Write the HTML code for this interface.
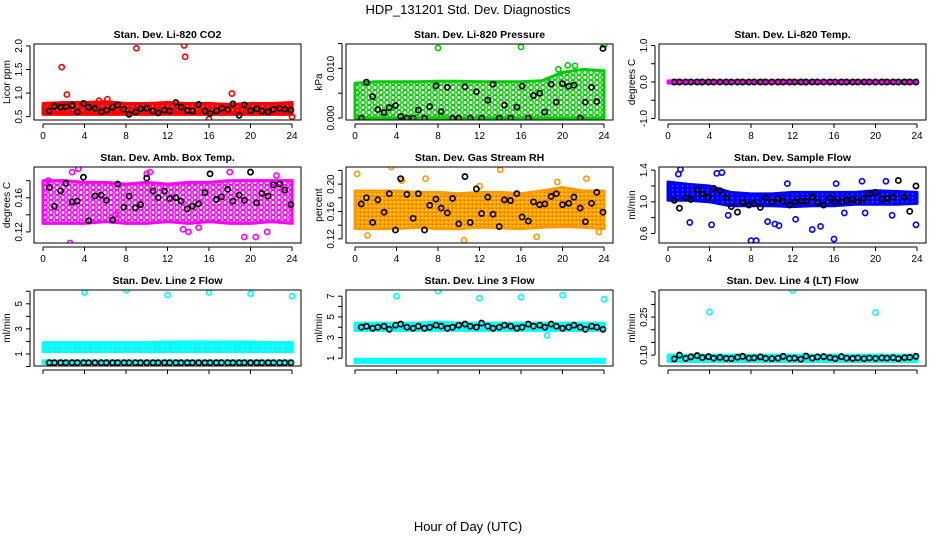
<!DOCTYPE html>
<html><head><meta charset="utf-8"><style>
body{margin:0;background:#fff}
svg{display:block;font-family:"Liberation Sans",sans-serif}
</style></head><body>
<svg id="c" width="936" height="540">
<defs>
<pattern id="pr" width="5" height="4" patternUnits="userSpaceOnUse"><rect width="5" height="4" fill="#f00"/><circle cx="2.5" cy="2" r="0.8" fill="#f88"/></pattern>
<pattern id="pg" width="6" height="5" patternUnits="userSpaceOnUse"><circle cx="3" cy="2.5" r="2.2" fill="none" stroke="#0c0" stroke-width="1.4"/></pattern>
<pattern id="pm" width="6" height="5" patternUnits="userSpaceOnUse"><circle cx="3" cy="2.5" r="2.2" fill="none" stroke="#f0f" stroke-width="1.5"/></pattern>
<pattern id="po" width="4" height="4" patternUnits="userSpaceOnUse"><rect width="4" height="4" fill="#f90"/><circle cx="2" cy="2" r="0.9" fill="#ff0"/><circle cx="0" cy="0" r="0.7" fill="#f00"/></pattern>
<pattern id="pb" width="5" height="4" patternUnits="userSpaceOnUse"><rect width="5" height="4" fill="#00f"/><circle cx="2.5" cy="2" r="0.8" fill="#66f"/></pattern>
<pattern id="pc" width="5" height="4" patternUnits="userSpaceOnUse"><rect width="5" height="4" fill="#0ff"/><circle cx="2.5" cy="2" r="0.8" fill="#bff"/></pattern>
</defs>
<text x="468" y="14" text-anchor="middle" font-size="13">HDP_131201  Std. Dev. Diagnostics</text>
<text x="468" y="531" text-anchor="middle" font-size="13">Hour of Day (UTC)</text>
</svg>
<script>
const bHours=[0.6,1.1,1.7,2.2,2.8,3.3,3.9,4.4,5.0,5.6,6.1,6.7,7.2,7.8,8.3,8.9,9.4,10.0,10.6,11.1,11.7,12.2,12.8,13.3,13.9,14.4,15.0,15.6,16.1,16.7,17.2,17.8,18.3,18.9,19.4,20.0,20.6,21.1,21.7,22.2,22.8,23.3,23.9];
const bandHours=[0,2,4,6,8,10,12,14,16,18,20,22,24];
// black series
const co2Black=[0.62,0.72,0.7,0.71,0.74,0.6,0.78,0.7,0.68,0.6,0.64,0.7,0.75,0.66,0.55,0.6,0.67,0.68,0.62,0.58,0.64,0.62,0.8,0.7,0.63,0.62,0.76,0.62,0.57,0.62,0.68,0.65,0.77,0.53,0.75,0.63,0.67,0.62,0.6,0.66,0.68,0.66,0.64];
const presBlack=[0.0,0.0072,0.0043,0.0017,0.0011,0.0021,0.0025,0.0003,0.0,0.0,0.0016,0.0,0.0023,0.0065,0.0013,0.0062,0.0,0.0,0.0063,0.0,0.0053,0.0,0.0036,0.0068,0.0,0.0026,0.0,0.0022,0.0064,0.0,0.0045,0.005,0.0012,0.0068,0.0032,0.0069,0.0064,0.0066,0.0,0.0032,0.0062,0.0033,0.014];
const tempBlack=bHours.map(()=>0);
const boxBlack=[0.172,0.15,0.168,0.177,0.155,0.156,0.184,0.133,0.162,0.163,0.157,0.134,0.176,0.149,0.162,0.148,0.152,0.183,0.168,0.16,0.168,0.159,0.16,0.156,0.147,0.15,0.153,0.166,0.188,0.158,0.161,0.17,0.156,0.163,0.157,0.19,0.154,0.165,0.162,0.175,0.176,0.169,0.152];
const rhBlack=[0.171,0.18,0.144,0.177,0.159,0.186,0.133,0.208,0.185,0.15,0.186,0.133,0.169,0.178,0.165,0.158,0.179,0.142,0.211,0.144,0.193,0.157,0.181,0.156,0.138,0.177,0.176,0.186,0.152,0.146,0.174,0.17,0.171,0.182,0.186,0.17,0.172,0.181,0.165,0.145,0.172,0.188,0.159];
const flowBlack=[1.02,0.92,1.05,1.03,1.15,1.1,1.06,1.17,1.14,1.05,0.94,0.87,0.99,0.96,0.98,0.93,1.05,1.0,1.04,1.01,0.96,1.0,1.01,1.01,1.06,0.99,0.96,1.05,1.0,1.0,1.02,1.03,1.0,1.04,1.1,1.12,1.03,1.04,1.06,1.27,1.06,0.88,1.2];
const l2Black=bHours.map(()=>0.3);
const l3Black=[4.0,4.1,3.9,4.0,4.1,3.8,4.2,4.3,4.0,3.9,4.1,3.9,4.0,4.2,4.1,3.9,4.0,4.2,4.3,4.1,4.0,4.4,4.1,3.9,4.0,4.2,4.1,3.9,4.0,4.3,4.1,4.2,4.0,4.3,4.1,3.9,4.0,4.2,4.0,3.8,4.1,4.0,3.8];
const l4Black=[0.085,0.1,0.087,0.093,0.098,0.09,0.094,0.088,0.091,0.087,0.086,0.092,0.095,0.088,0.089,0.093,0.087,0.086,0.088,0.095,0.087,0.088,0.084,0.096,0.088,0.093,0.094,0.09,0.086,0.094,0.088,0.087,0.089,0.086,0.089,0.087,0.089,0.088,0.09,0.086,0.09,0.091,0.095];
// colored bands (lo/hi) per bandHours
const co2Lo=[0.55,0.55,0.55,0.55,0.55,0.55,0.55,0.55,0.55,0.55,0.55,0.55,0.55], co2Hi=[0.78,0.8,0.8,0.82,0.78,0.78,0.8,0.78,0.78,0.76,0.78,0.78,0.8];
const presLo=[0,0,0,0,0,0,0,0,0,0,0,0,0], presHi=[0.007,0.0073,0.0073,0.0073,0.0074,0.0074,0.0073,0.0073,0.0073,0.0075,0.0092,0.0098,0.0095];
const tempLo=[-0.03,-0.03,-0.03,-0.03,-0.03,-0.03,-0.03,-0.03,-0.03,-0.03,-0.03,-0.03,-0.03], tempHi=[0.03,0.03,0.03,0.03,0.03,0.03,0.03,0.03,0.03,0.03,0.03,0.03,0.03];
const boxLo=[0.13,0.13,0.13,0.132,0.13,0.13,0.132,0.13,0.132,0.13,0.13,0.132,0.13], boxHi=[0.18,0.18,0.178,0.178,0.176,0.178,0.176,0.178,0.178,0.18,0.18,0.18,0.18];
const rhLo=[0.135,0.135,0.135,0.137,0.135,0.135,0.137,0.136,0.135,0.137,0.138,0.137,0.135], rhHi=[0.19,0.19,0.19,0.188,0.188,0.186,0.188,0.188,0.186,0.19,0.195,0.19,0.19];
const flowLo=[1.02,1.02,1.0,0.95,0.95,0.95,0.94,0.95,0.95,0.97,0.97,0.97,0.98], flowHi=[1.25,1.22,1.2,1.12,1.1,1.1,1.12,1.12,1.12,1.12,1.14,1.13,1.12];
const l2Lo=[1.2,1.2,1.2,1.2,1.2,1.2,1.2,1.2,1.2,1.2,1.2,1.2,1.2], l2Hi=[1.9,1.9,1.9,1.9,1.9,1.9,1.95,1.95,1.95,1.95,1.95,1.9,1.9];
const l3Lo=[3.7,3.7,3.7,3.7,3.7,3.7,3.7,3.7,3.7,3.7,3.7,3.7,3.7], l3Hi=[4.4,4.4,4.4,4.4,4.5,4.4,4.4,4.4,4.4,4.4,4.4,4.4,4.4];
const l4Lo=[0.075,0.075,0.075,0.075,0.075,0.075,0.075,0.075,0.075,0.075,0.075,0.075,0.075], l4Hi=[0.1,0.1,0.1,0.1,0.1,0.1,0.1,0.1,0.1,0.1,0.1,0.1,0.1];
// outliers [hour, value]
const co2Out=[[1.8,1.55],[2.3,0.97],[9,1.95],[13.6,2.01],[13.7,1.77],[18.2,0.99],[16,0.45],[24,0.5],[0.5,0.75],[6.2,0.87],[5.4,0.84]];
const presOut=[[8,0.0141],[16,0.0143],[24,0.0147],[20.5,0.0106],[21.2,0.0105],[19.6,0.0098],[0.2,0.005],[8.3,0.0005]];
const tempOut=[];
const boxOut=[[2.6,0.107],[3.4,0.194],[10,0.188],[13.5,0.123],[19.4,0.114],[20.5,0.114],[21.6,0.12],[2.8,0.19],[0.5,0.18],[15,0.125],[18,0.19],[22.5,0.186],[10.3,0.19],[7,0.14],[14,0.12]];
const rhOut=[[0.2,0.215],[3.5,0.225],[4.5,0.205],[14,0.221],[1.2,0.125],[10.5,0.118],[17.5,0.123],[22.3,0.208],[12,0.197],[6.8,0.208],[23.5,0.13],[19.5,0.203]];
const flowOut=[[1.2,1.41],[1,1.35],[5.2,1.37],[4.7,1.36],[2.1,0.74],[4.2,0.71],[8,0.51],[8.5,0.51],[9.6,0.75],[10.3,0.72],[10.7,0.7],[12.3,0.78],[13.9,0.65],[14.7,0.69],[16,0.53],[11.5,1.23],[16.2,1.23],[18.7,1.26],[21,1.26],[23.9,0.71],[5.8,0.83],[17,0.86],[19,0.86],[21.6,0.83]];
const l2Out=[[4,5.9],[8,6.1],[12,5.7],[16,5.9],[20,5.8],[24,5.6]];
const l3Out=[[4,7.0],[8,7.5],[12,6.8],[16,6.9],[20,7.1],[24,6.7],[18.5,3.2]];
const l4Out=[[4,0.27],[12,0.355],[20,0.268]];
const xTicks=[0,4,8,12,16,20,24];

const panels=[
 {t:"Stan. Dev. Li-820 CO2",yl:"Licor ppm",col:0,row:0,ymin:0.43,ymax:2.04,ticks:[0.5,1,1.5,2],lab:["0.5","1.0","1.5","2.0"],c:"#f00",f:"url(#pr)",lo:co2Lo,hi:co2Hi,out:co2Out,b:co2Black},
 {t:"Stan. Dev. Li-820 Pressure",yl:"kPa",col:1,row:0,ymin:-0.0004,ymax:0.0149,ticks:[0,0.005,0.01,0.015],lab:["0.000","","0.010",""],c:"#0c0",f:"url(#pg)",lo:presLo,hi:presHi,out:presOut,b:presBlack},
 {t:"Stan. Dev. Li-820 Temp.",yl:"degrees C",col:2,row:0,ymin:-1.04,ymax:1.04,ticks:[-1,-0.5,0,0.5,1],lab:["-1.0","","0.0","","1.0"],c:"#f0f",f:"#f0f",lo:tempLo,hi:tempHi,out:tempOut,b:tempBlack},
 {t:"Stan. Dev. Amb. Box Temp.",yl:"degrees C",col:0,row:1,ymin:0.107,ymax:0.196,ticks:[0.12,0.14,0.16,0.18],lab:["0.12","","0.16",""],c:"#f0f",f:"url(#pm)",lo:boxLo,hi:boxHi,out:boxOut,b:boxBlack},
 {t:"Stan. Dev. Gas Stream RH",yl:"percent",col:1,row:1,ymin:0.114,ymax:0.225,ticks:[0.12,0.14,0.16,0.18,0.2,0.22],lab:["0.12","","0.16","","0.20",""],c:"#f90",f:"url(#po)",lo:rhLo,hi:rhHi,out:rhOut,b:rhBlack},
 {t:"Stan. Dev. Sample Flow",yl:"ml/min",col:2,row:1,ymin:0.48,ymax:1.44,ticks:[0.6,0.8,1,1.2,1.4],lab:["0.6","","1.0","","1.4"],c:"#00f",f:"url(#pb)",lo:flowLo,hi:flowHi,out:flowOut,b:flowBlack},
 {t:"Stan. Dev. Line 2 Flow",yl:"ml/min",col:0,row:2,ymin:0.04,ymax:6.1,ticks:[0,1,2,3,4,5,6],lab:["","1","","3","","5",""],c:"#0ff",f:"url(#pc)",lo:l2Lo,hi:l2Hi,out:l2Out,b:l2Black,nox:1},
 {t:"Stan. Dev. Line 3 Flow",yl:"ml/min",col:1,row:2,ymin:0.25,ymax:7.6,ticks:[1,2,3,4,5,6,7],lab:["1","","3","","5","","7"],c:"#0ff",f:"url(#pc)",lo:l3Lo,hi:l3Hi,out:l3Out,b:l3Black,nox:1},
 {t:"Stan. Dev. Line 4 (LT) Flow",yl:"ml/min",col:2,row:2,ymin:0.057,ymax:0.357,ticks:[0.1,0.15,0.2,0.25,0.3,0.35],lab:["0.10","","","0.25","",""],c:"#0ff",f:"url(#pc)",lo:l4Lo,hi:l4Hi,out:l4Out,b:l4Black,nox:1}
];
const lowBands={6:[0.25,0.45],7:[0.6,0.9]};
const svg=document.getElementById('c'),NS="http://www.w3.org/2000/svg";
function mk(tag,at,parent,txt){const e=document.createElementNS(NS,tag);for(const k in at)e.setAttribute(k,at[k]);if(txt!==undefined)e.textContent=txt;(parent||svg).appendChild(e);return e;}
const colX=[34,346,659],rowY=[44,167,290],W=267,H=76;
panels.forEach((p,i)=>{
 const L=colX[p.col],T=rowY[p.row];
 const g=mk('g',{});
 
 
 const xs=h=>L+9+h*(W-18)/24, ys=v=>T+H-(v-p.ymin)/(p.ymax-p.ymin)*H;
 const tt=mk('text',{x:L+W/2,y:T-6,'text-anchor':'middle','font-size':10.5,'font-weight':'bold'},g,p.t);
 
 
 const clip='cl'+i; const cp=mk('clipPath',{id:clip},g); mk('rect',{x:L,y:T,width:W,height:H},cp);
 const dg=mk('g',{'clip-path':'url(#'+clip+')'},g);
 let pts=bandHours.map((h,k)=>xs(h)+','+ys(p.hi[k]));
 pts=pts.concat(bandHours.map((h,k)=>xs(h)+','+ys(p.lo[k])).reverse());
 const band=mk('polygon',{points:pts.join(' '),fill:p.f,stroke:p.c,'stroke-width':3,'stroke-linejoin':'round'},dg);
 
 
 if(lowBands[i]){const lb=mk('rect',{x:xs(0),y:ys(lowBands[i][1]),width:xs(24)-xs(0),height:ys(lowBands[i][0])-ys(lowBands[i][1]),fill:p.c,stroke:p.c,'stroke-width':3},dg);
  
  }
 p.out.forEach(o=>{const c=mk('circle',{cx:xs(o[0]),cy:ys(o[1]),r:2.6,fill:'none',stroke:p.c,'stroke-width':1.6},dg);
  
  });
 p.b.forEach((v,k)=>{const c=mk('circle',{cx:xs(bHours[k]),cy:ys(v),r:2.6,fill:'none',stroke:'#000','stroke-width':1.7},dg);
  
  });
 const box=mk('rect',{x:L,y:T,width:W,height:H,fill:'none',stroke:'#000','stroke-width':1},g);
 
 
 mk('line',{x1:L-4,x2:L-4,y1:ys(p.ticks[0]),y2:ys(p.ticks[p.ticks.length-1]),stroke:'#000'},g);
 p.ticks.forEach((v,k)=>{mk('line',{x1:L-8,x2:L-4,y1:ys(v),y2:ys(v),stroke:'#000'},g);
  if(p.lab[k]){const t=mk('text',{x:L-12,y:ys(v),'font-size':10,'text-anchor':'middle',transform:`rotate(-90 ${L-12} ${ys(v)})`},g,p.lab[k]);
   
   }});
 const yl=mk('text',{x:L-24,y:T+H/2,'font-size':10,'text-anchor':'middle',transform:`rotate(-90 ${L-24} ${T+H/2})`},g,p.yl);
 
 
 mk('line',{x1:xs(0),x2:xs(24),y1:T+H+4,y2:T+H+4,stroke:'#000'},g);
 xTicks.forEach(h=>{mk('line',{x1:xs(h),x2:xs(h),y1:T+H+4,y2:T+H+8,stroke:'#000'},g);
  if(!p.nox){const t=mk('text',{x:xs(h),y:T+H+19,'font-size':10,'text-anchor':'middle'},g,String(h));
   
   }});
});
</script>
</body></html>
